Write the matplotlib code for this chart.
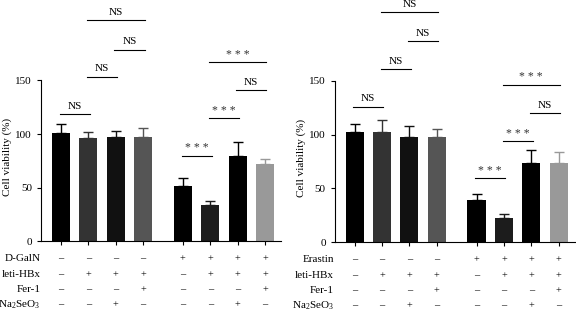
import numpy as np
import matplotlib
matplotlib.use('Agg')
import matplotlib.pyplot as plt

plt.rcParams['font.family'] = ['Liberation Serif', 'DejaVu Serif']
plt.rcParams['mathtext.fontset'] = 'custom'
plt.rcParams['mathtext.rm'] = 'Liberation Serif'
plt.rcParams['mathtext.it'] = 'Liberation Serif:italic'

positions = [0, 1, 2, 3, 4.45, 5.45, 6.45, 7.45]
colors = ['#000000', '#333333', '#111111', '#555555',
          '#000000', '#1c1c1c', '#000000', '#999999']

# left panel: D-GalN
left_vals = [101, 96.5, 97, 97, 51.7, 33.5, 79.7, 72.2]
left_err = [8, 5.5, 6, 8.5, 7.3, 4.2, 12.8, 5]
left_rows = ['D-GalN', 'leti-HBx', 'Fer-1', 'Na$_2$SeO$_3$']
left_signs = [
    ['–', '–', '–', '–', '+', '+', '+', '+'],
    ['–', '+', '+', '+', '–', '+', '+', '+'],
    ['–', '–', '–', '+', '–', '–', '–', '+'],
    ['–', '–', '+', '–', '–', '–', '+', '–'],
]
# (bar i, bar j, height, label)
left_brackets = [
    (0, 1, 118.7, 'NS'),
    (1, 2, 153.6, 'NS'),
    (2, 3, 178.8, 'NS'),
    (1, 3, 206, 'NS'),
    (4, 5, 80, '***'),
    (5, 6, 115, '***'),
    (6, 7, 140.7, 'NS'),
    (5, 7, 167.3, '***'),
]

# right panel: Erastin
right_vals = [102.4, 102.7, 97.8, 97.8, 39, 23, 74, 74]
right_err = [7.6, 10.9, 10.2, 7, 5.7, 3, 12, 10]
right_rows = ['Erastin', 'leti-HBx', 'Fer-1', 'Na$_2$SeO$_3$']
right_signs = left_signs
right_brackets = [
    (0, 1, 126, 'NS'),
    (1, 2, 161, 'NS'),
    (2, 3, 187, 'NS'),
    (1, 3, 214, 'NS'),
    (4, 5, 59.6, '***'),
    (5, 6, 93.7, '***'),
    (6, 7, 119.7, 'NS'),
    (5, 7, 146.5, '***'),
]


def panel(ax, vals, errs, rows, signs, brackets):
    for p, v, e, c in zip(positions, vals, errs, colors):
        ax.bar(p, v, width=0.66, color=c, zorder=2)
        ax.errorbar(p, v, yerr=[[0], [e]], color=c, capsize=3.5,
                    elinewidth=1, capthick=1, zorder=1)
    for i, j, h, lab in brackets:
        x0 = positions[i] - 0.05
        x1 = positions[j] + 0.05
        ax.plot([x0, x1], [h, h], color='black', lw=0.8, clip_on=False)
        if lab == 'NS':
            ax.text((x0 + x1) / 2, h + 3, lab, ha='center', va='bottom',
                    fontsize=8, clip_on=False)
        else:
            ax.text((x0 + x1) / 2, h + 1, '* * *', ha='center', va='bottom',
                    fontsize=8.5, color='#333333', clip_on=False)
    ax.set_xlim(-0.73, 8.04)
    ax.set_ylim(0, 225)
    ax.spines['top'].set_visible(False)
    ax.spines['right'].set_visible(False)
    ax.spines['left'].set_bounds(0, 150)
    ax.set_yticks([0, 50, 100, 150])
    ax.set_xticks(positions)
    ax.set_xticklabels([])
    ax.tick_params(length=3, width=0.8, labelsize=8)
    ax.set_ylabel('Cell viability (%)', fontsize=8)
    ax.yaxis.set_label_coords(-0.12, 0.35)
    row_y = [-16, -31, -45, -59]
    for r, (name, ry) in enumerate(zip(rows, row_y)):
        ax.text(-0.75, ry, name, ha='right', va='center', fontsize=8,
                clip_on=False)
        for p, s in zip(positions, signs[r]):
            ax.text(p, ry, s, ha='center', va='center', fontsize=7.5,
                    clip_on=False)


fig = plt.figure(figsize=(5.76, 3.14), dpi=100)
ax1 = fig.add_axes([0.0712, 0.2315, 0.417, 0.7685])
ax2 = fig.add_axes([0.581, 0.2283, 0.417, 0.7717])
panel(ax1, left_vals, left_err, left_rows, left_signs, left_brackets)
panel(ax2, right_vals, right_err, right_rows, right_signs, right_brackets)

fig.savefig('out.png', dpi=100)
